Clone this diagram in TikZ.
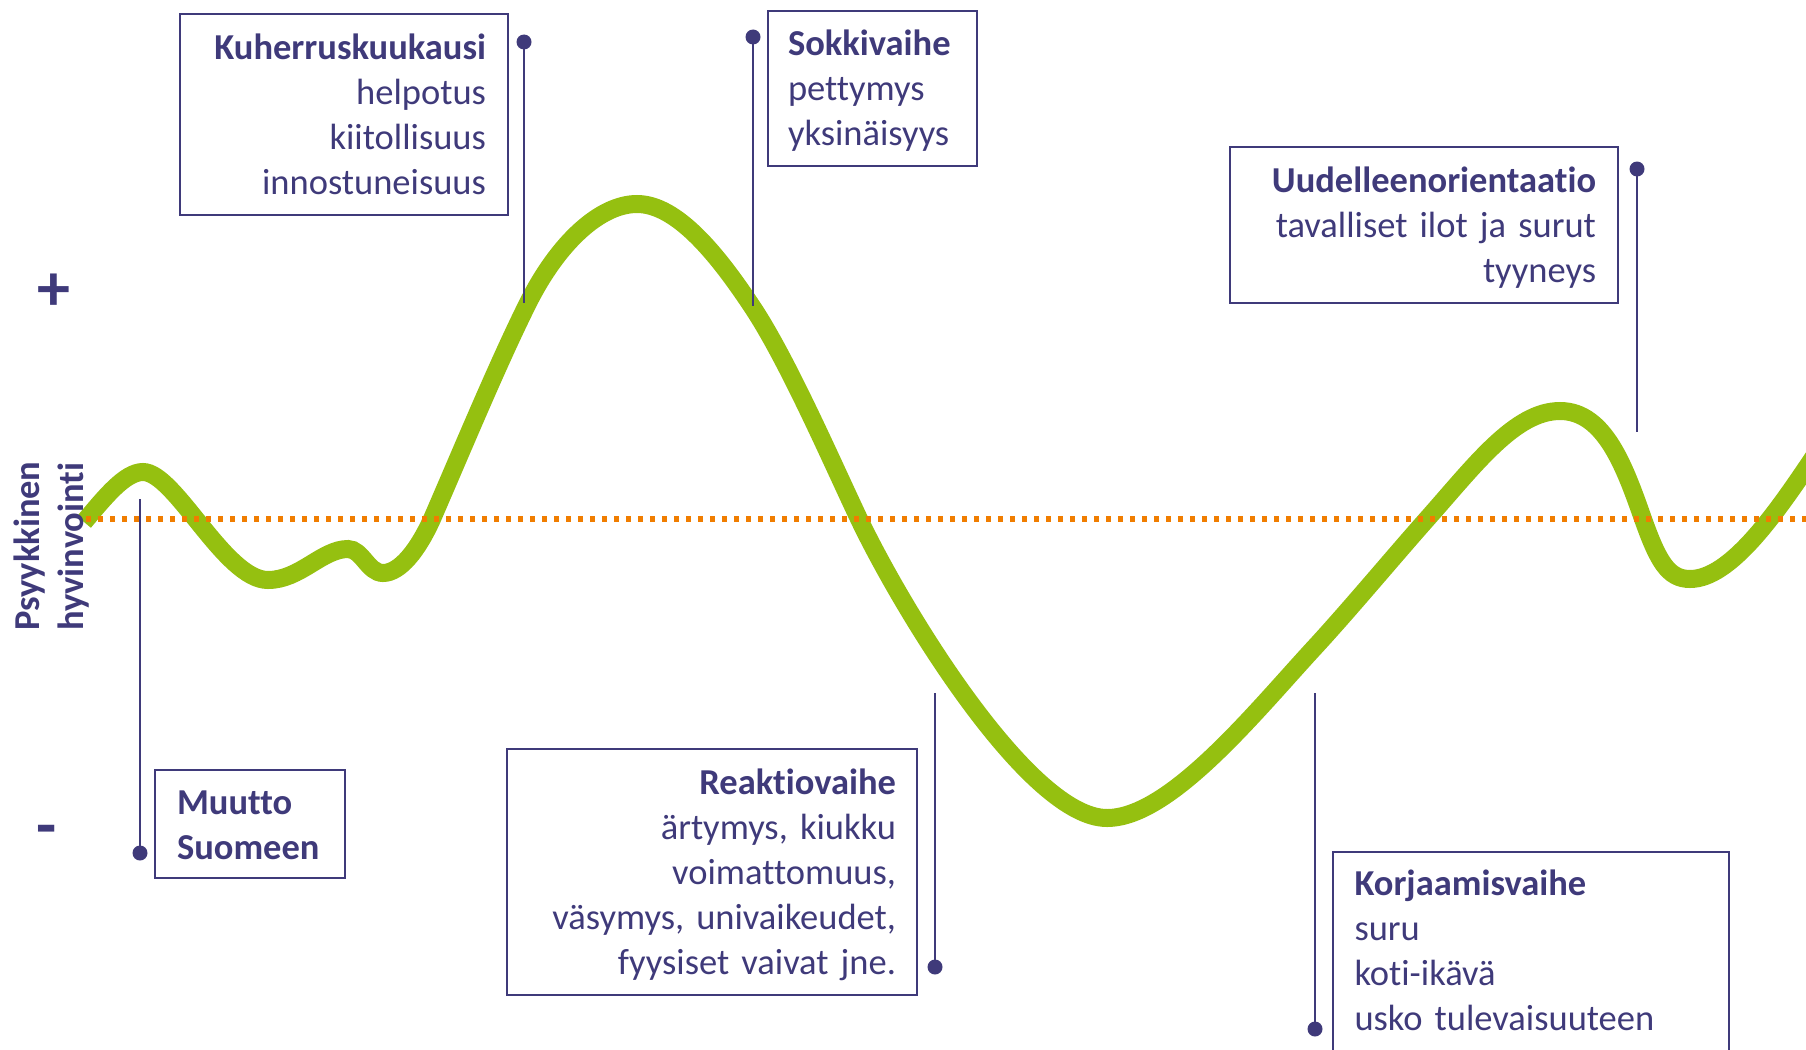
\documentclass[tikz,border=0pt]{standalone}
\usepackage{fontspec}
\setmainfont{Carlito}[Ligatures={NoCommon}]
\definecolor{ink}{RGB}{63,58,122}
\definecolor{leaf}{RGB}{149,192,16}
\definecolor{tang}{RGB}{240,125,0}
\newcommand{\topst}{\rule{0pt}{34pt}}
\newcommand{\botst}{\rule[-9pt]{0pt}{9pt}}
\begin{document}
\begin{tikzpicture}[x=1pt,y=-1pt,
  lbl/.style={draw=ink, line width=2.8pt, text=ink, outer sep=0pt, inner ysep=0pt,
    anchor=north west, font=\fontsize{36.5}{45}\selectfont},
  pinline/.style={draw=ink, line width=2.8pt},
  pindot/.style={fill=ink},
  wave/.style={draw=leaf, line width=18pt},
  baseline/.style={draw=tang, line width=5.3pt, dash pattern=on 5.3pt off 6.7pt},
  sign/.style={text=ink, inner sep=0pt, font=\bfseries\fontsize{66}{66}\selectfont}
  ]
\useasboundingbox (0,0) rectangle (1806,1049);
\clip (0,0) rectangle (1806,1049);

% wellbeing curve
\draw[wave] (84,522) .. controls (105,497) and (125,472) .. (143,472)
  .. controls (175,472) and (225,580) .. (268,580)
  .. controls (300,580) and (322,549) .. (348,549)
  .. controls (362,549) and (368,573) .. (383,573)
  .. controls (400,573) and (418,550) .. (432,519)
  .. controls (462,450) and (498,363) .. (528,303)
  .. controls (558,243) and (600,204) .. (637,204)
  .. controls (677,204) and (718,255) .. (753,308)
  .. controls (788,361) and (832,462) .. (859,519)
  .. controls (905,615) and (1030,818) .. (1107,818)
  .. controls (1170,818) and (1255,712) .. (1315,647)
  .. controls (1350,609) and (1395,555) .. (1427,519)
  .. controls (1475,465) and (1515,411) .. (1560,411)
  .. controls (1605,411) and (1625,468) .. (1643,519)
  .. controls (1658,561) and (1668,579) .. (1690,579)
  .. controls (1730,579) and (1775,515) .. (1815,455);

% zero line
\coordinate (z0) at (86,519);
\coordinate (z1) at (1806,519);
\draw[baseline] (z0) -- (z1);

% pins
\coordinate (kA) at (524,42);   \coordinate (kB) at (524,303);
\coordinate (sA) at (753,37);   \coordinate (sB) at (753,306);
\coordinate (uA) at (1637,169); \coordinate (uB) at (1637,432);
\coordinate (mA) at (140,853);  \coordinate (mB) at (140,499);
\coordinate (rA) at (935,967);  \coordinate (rB) at (935,693);
\coordinate (oA) at (1315,1029); \coordinate (oB) at (1315,693);
\foreach \p in {k,s,u,m,r,o}{
  \draw[pinline] (\p A) -- (\p B);
  \fill[pindot] (\p A) circle[radius=7.5pt];
}

% boxes
\node[lbl, inner xsep=22pt, text width=284pt, minimum height=201pt, align=right] (kuh) at (180,14)
  {\topst\mbox{\textbf{Kuherruskuukausi}}\\\mbox{helpotus}\\\mbox{kiitollisuus}\\\mbox{innostuneisuus}\botst};
\node[lbl, inner xsep=20pt, text width=169pt, minimum height=155pt, align=left] (sok) at (768,11)
  {\topst\mbox{\textbf{Sokkivaihe}}\\\mbox{pettymys}\\\mbox{yksinäisyys}\botst};
\node[lbl, inner xsep=22pt, text width=344pt, minimum height=156pt, align=right] (uud) at (1230,147)
  {\topst\mbox{\textbf{Uudelleenorientaatio}}\\\mbox{tavalliset ilot ja surut}\\\mbox{tyyneys}\botst};
\node[lbl, inner xsep=22pt, text width=146pt, minimum height=108pt, align=left] (muu) at (155,770)
  {\topst\mbox{\textbf{Muutto}}\\\mbox{\textbf{Suomeen}}\botst};
\node[lbl, inner xsep=21pt, text width=368pt, minimum height=246pt, align=right] (rea) at (507,749)
  {\topst\mbox{\textbf{Reaktiovaihe}}\\\mbox{ärtymys, kiukku}\\\mbox{voimattomuus,}\\\mbox{väsymys, univaikeudet,}\\\mbox{fyysiset vaivat jne.}\botst};
\node[lbl, inner xsep=21.5pt, text width=353pt, minimum height=200pt, align=left] (kor) at (1333,852)
  {\rule{0pt}{30pt}\mbox{\textbf{Korjaamisvaihe}}\\\mbox{suru}\\\mbox{koti-ikävä}\\\mbox{usko tulevaisuuteen}\botst};

% axis label and signs
\node[rotate=90, anchor=north west, inner sep=0pt, align=left, text=ink,
  font=\bfseries\fontsize{36.5}{44}\selectfont] (ylab) at (9.3,631)
  {\rule{0pt}{30pt}Psyykkinen\\hyvinvointi};
\node[sign] (plus) at (54,292) {+};
\node[sign] (minus) at (46.5,836) {-};
\end{tikzpicture}
\end{document}
